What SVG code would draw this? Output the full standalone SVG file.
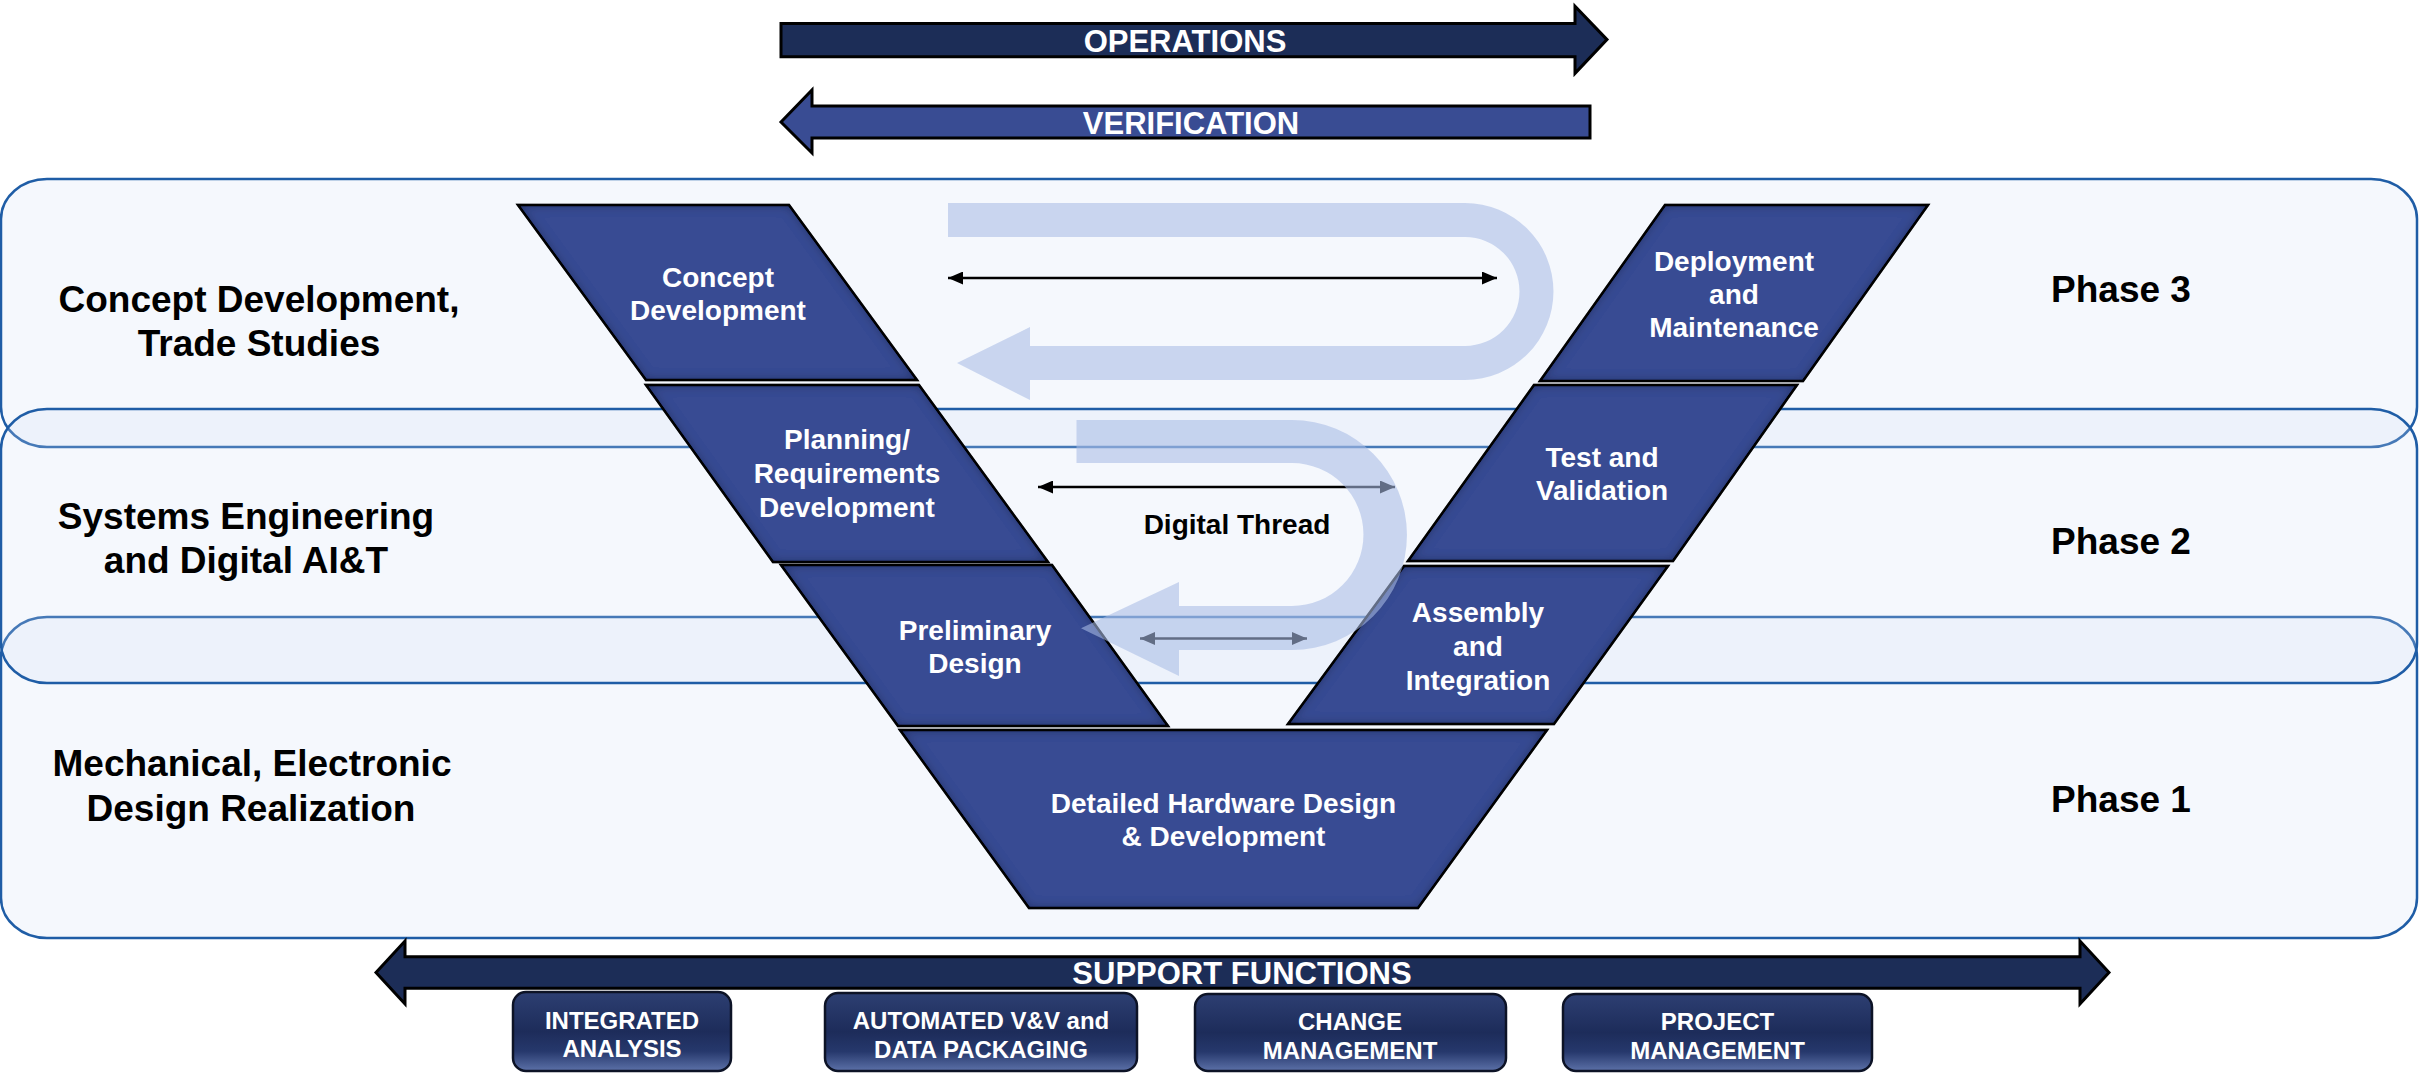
<svg xmlns="http://www.w3.org/2000/svg" width="2420" height="1074" viewBox="0 0 2420 1074">
<defs>
<style>
.panel{fill:#D3E0F5;fill-opacity:0.22;stroke:#1F5DA6;stroke-width:2.5}
.para{fill:#394C93;stroke:#000;stroke-width:2.5;stroke-linejoin:miter}
.nt{font-family:"Liberation Sans",Arial,sans-serif;font-weight:bold;font-size:28px;fill:#fff;text-anchor:middle}
.lbl{font-family:"Liberation Sans",Arial,sans-serif;font-weight:bold;font-size:37px;fill:#000;text-anchor:middle}
.bar{font-family:"Liberation Sans",Arial,sans-serif;font-weight:bold;font-size:31px;fill:#fff;text-anchor:middle}
.bt{font-family:"Liberation Sans",Arial,sans-serif;font-weight:bold;font-size:24px;fill:#fff;text-anchor:middle}
.dt{font-family:"Liberation Sans",Arial,sans-serif;font-weight:bold;font-size:28px;fill:#000;text-anchor:middle}
.conn{stroke:#000;stroke-width:2.5;fill:none;marker-start:url(#ah);marker-end:url(#ah)}
.u{fill:#A8BCE6;fill-opacity:0.58;stroke:none}
.big{stroke:#000;stroke-width:3;stroke-linejoin:miter}
.btn{fill:url(#btng);stroke:#0d1326;stroke-width:2.5}
</style>
<filter id="inset" x="-10%" y="-10%" width="120%" height="120%">
<feFlood flood-color="#000" flood-opacity="0.8" result="f"/>
<feComposite in="f" in2="SourceAlpha" operator="out" result="o"/>
<feGaussianBlur in="o" stdDeviation="6" result="b"/>
<feComposite in="b" in2="SourceAlpha" operator="in" result="s"/>
<feMerge><feMergeNode in="SourceGraphic"/><feMergeNode in="s"/></feMerge>
</filter>
<linearGradient id="btng" x1="0" y1="0" x2="0" y2="1">
<stop offset="0" stop-color="#2d3f72"/>
<stop offset="0.5" stop-color="#1d2c5a"/>
<stop offset="0.75" stop-color="#26386c"/>
<stop offset="1" stop-color="#5c71a8"/>
</linearGradient>
<marker id="ah" markerUnits="userSpaceOnUse" markerWidth="15" markerHeight="13" viewBox="0 0 15 13" refX="15" refY="6.5" orient="auto-start-reverse">
<path d="M0,0 L15,6.5 L0,13 Z" fill="#000"/>
</marker>
</defs>

<g id="panels">
<rect class="panel" x="1" y="179" width="2416" height="268" rx="46" ry="40"/>
<rect class="panel" x="1" y="617" width="2416" height="321" rx="46" ry="40"/>
<rect class="panel" x="1" y="409" width="2416" height="274" rx="46" ry="40"/>
</g>

<g id="level-labels">
<text class="lbl" x="259" y="312">Concept Development,</text>
<text class="lbl" x="259" y="355.5">Trade Studies</text>
<text class="lbl" x="246" y="529">Systems Engineering</text>
<text class="lbl" x="246" y="573">and Digital AI&amp;T</text>
<text class="lbl" x="252" y="776">Mechanical, Electronic</text>
<text class="lbl" x="251" y="821">Design Realization</text>
<text class="lbl" x="2121" y="302">Phase 3</text>
<text class="lbl" x="2121" y="553.5">Phase 2</text>
<text class="lbl" x="2121" y="812">Phase 1</text>
</g>

<g id="operations">
<polygon class="big" fill="#1C2D57" points="781,23.4 1575,23.4 1575,6.2 1607,39.6 1575,73.4 1575,56.8 781,56.8"/>
<text class="bar" x="1185" y="51.5">OPERATIONS</text>
</g>
<g id="verification">
<polygon class="big" fill="#394C93" points="781,122 812,90 812,106 1590,106 1590,138 812,138 812,153"/>
<text class="bar" x="1191" y="133.5">VERIFICATION</text>
</g>

<g id="node-concept">
<polygon class="para" filter="url(#inset)" points="518,205 789,205 917,380 646,380"/>
<text class="nt" x="718" y="287">Concept</text>
<text class="nt" x="718" y="320">Development</text>
</g>
<g id="node-planning">
<polygon class="para" filter="url(#inset)" points="646,385 919,385 1048,562 773,562"/>
<text class="nt" x="847" y="449">Planning/</text>
<text class="nt" x="847" y="483">Requirements</text>
<text class="nt" x="847" y="517">Development</text>
</g>
<g id="node-preliminary">
<polygon class="para" filter="url(#inset)" points="781,565 1052,565 1168,726 898,726"/>
<text class="nt" x="975" y="640">Preliminary</text>
<text class="nt" x="975" y="673">Design</text>
</g>
<g id="node-detailed">
<polygon class="para" filter="url(#inset)" points="900,730 1547,730 1418,908 1029,908"/>
<text class="nt" x="1223.5" y="813">Detailed Hardware Design</text>
<text class="nt" x="1223.5" y="846">&amp; Development</text>
</g>
<g id="node-assembly">
<polygon class="para" filter="url(#inset)" points="1404,566 1668,566 1554,724 1288,724"/>
<text class="nt" x="1478" y="622">Assembly</text>
<text class="nt" x="1478" y="656">and</text>
<text class="nt" x="1478" y="690">Integration</text>
</g>
<g id="node-test">
<polygon class="para" filter="url(#inset)" points="1534,385 1797,385 1673,561 1408,561"/>
<text class="nt" x="1602" y="467">Test and</text>
<text class="nt" x="1602" y="500">Validation</text>
</g>
<g id="node-deployment">
<polygon class="para" filter="url(#inset)" points="1665,205 1928,205 1803,381 1540,381"/>
<text class="nt" x="1734" y="270.5">Deployment</text>
<text class="nt" x="1734" y="304">and</text>
<text class="nt" x="1734" y="337">Maintenance</text>
</g>

<g id="connectors">
<line class="conn" x1="948" y1="278" x2="1497" y2="278"/>
<line class="conn" x1="1038" y1="487" x2="1395" y2="487"/>
<line class="conn" x1="1140" y1="638.5" x2="1307" y2="638.5"/>
<path class="u" d="M948,203 L1465,203 A88.5,88.5 0 0 1 1465,380 L1030,380 L1030,400 L957,363 L1030,327 L1030,346 L1465,346 A54.5,54.5 0 0 0 1465,237 L948,237 Z"/>
<path class="u" d="M1076.5,420 L1292,420 A115,115 0 0 1 1292,650 L1179,650 L1179,676 L1081,628.3 L1179,582 L1179,606 L1292,606 A71.5,71.5 0 0 0 1292,463 L1076.5,463 Z"/>
<text class="dt" x="1237" y="534">Digital Thread</text>
</g>

<g id="support-functions">
<polygon class="big" fill="#1C2D57" points="376,972.6 405,941 405,956.7 2080,956.7 2080,941 2109,972.6 2080,1004 2080,988.3 405,988.3 405,1004"/>
<text class="bar" x="1242" y="984">SUPPORT FUNCTIONS</text>
</g>

<g id="box-integrated">
<rect class="btn" x="513" y="992" width="218" height="79" rx="13"/>
<text class="bt" x="622" y="1028.5">INTEGRATED</text>
<text class="bt" x="622" y="1057">ANALYSIS</text>
</g>
<g id="box-automated">
<rect class="btn" x="825" y="993" width="312" height="78" rx="13"/>
<text class="bt" x="981" y="1029">AUTOMATED V&amp;V and</text>
<text class="bt" x="981" y="1057.5">DATA PACKAGING</text>
</g>
<g id="box-change">
<rect class="btn" x="1195" y="994" width="311" height="77" rx="13"/>
<text class="bt" x="1350" y="1030">CHANGE</text>
<text class="bt" x="1350" y="1058.5">MANAGEMENT</text>
</g>
<g id="box-project">
<rect class="btn" x="1563" y="994" width="309" height="77" rx="13"/>
<text class="bt" x="1717.5" y="1030">PROJECT</text>
<text class="bt" x="1717.5" y="1058.5">MANAGEMENT</text>
</g>
</svg>
